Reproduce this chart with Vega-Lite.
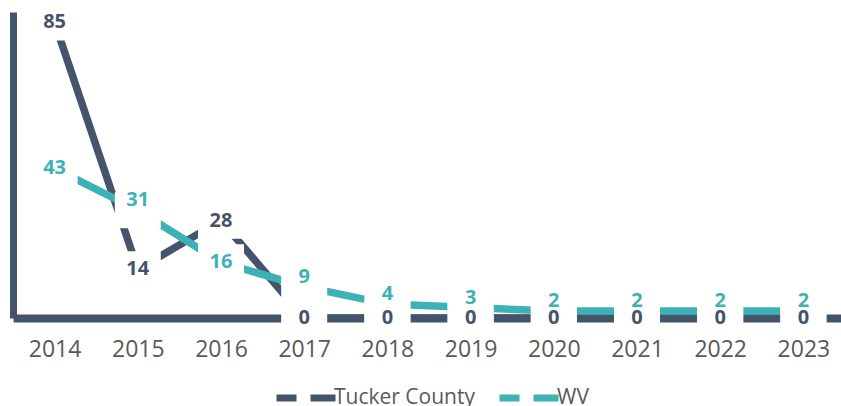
{
  "$schema": "https://vega.github.io/schema/vega-lite/v6.json",
  "width": 832,
  "height": 306,
  "autosize": "none",
  "padding": {"left": 13, "top": 12, "right": 0, "bottom": 88},
  "background": "white",
  "config": {"view": {"stroke": null}, "font": "Open Sans"},
  "data": {
    "values": [
      {"year": "2014", "series": "Tucker County", "value": 85},
      {"year": "2015", "series": "Tucker County", "value": 14},
      {"year": "2016", "series": "Tucker County", "value": 28},
      {"year": "2017", "series": "Tucker County", "value": 0},
      {"year": "2018", "series": "Tucker County", "value": 0},
      {"year": "2019", "series": "Tucker County", "value": 0},
      {"year": "2020", "series": "Tucker County", "value": 0},
      {"year": "2021", "series": "Tucker County", "value": 0},
      {"year": "2022", "series": "Tucker County", "value": 0},
      {"year": "2023", "series": "Tucker County", "value": 0},
      {"year": "2014", "series": "WV", "value": 43},
      {"year": "2015", "series": "WV", "value": 31},
      {"year": "2016", "series": "WV", "value": 16},
      {"year": "2017", "series": "WV", "value": 9},
      {"year": "2018", "series": "WV", "value": 4},
      {"year": "2019", "series": "WV", "value": 3},
      {"year": "2020", "series": "WV", "value": 2},
      {"year": "2021", "series": "WV", "value": 2},
      {"year": "2022", "series": "WV", "value": 2},
      {"year": "2023", "series": "WV", "value": 2}
    ]
  },
  "encoding": {
    "x": {
      "field": "year",
      "type": "ordinal",
      "axis": {
        "title": null,
        "labelAngle": 0,
        "labelFont": "Open Sans",
        "labelFontSize": 23,
        "labelColor": "#595959",
        "labelPadding": 20,
        "ticks": false,
        "grid": false,
        "domainColor": "#44546A",
        "domainWidth": 8
      }
    },
    "y": {
      "field": "value",
      "type": "quantitative",
      "scale": {"domain": [0, 88], "nice": false},
      "axis": {
        "title": null,
        "labels": false,
        "ticks": false,
        "grid": false,
        "domainColor": "#44546A",
        "domainWidth": 7
      }
    }
  },
  "layer": [
    {
      "mark": {"type": "line", "strokeWidth": 7.5, "strokeCap": "butt"},
      "encoding": {
        "color": {
          "field": "series",
          "type": "nominal",
          "scale": {"domain": ["Tucker County", "WV"], "range": ["#44546A", "#3DB2B6"]},
          "legend": {
            "orient": "none",
            "legendX": 260,
            "legendY": 353,
            "direction": "horizontal",
            "title": null,
            "symbolType": "stroke",
            "symbolSize": 3481,
            "symbolStrokeWidth": 7,
            "symbolDash": [20, 14, 25, 14],
            "labelFont": "Open Sans",
            "labelFontSize": 21,
            "labelColor": "#595959",
            "labelOffset": -5,
            "columnPadding": 10
          }
        }
      }
    },
    {
      "mark": {
        "type": "point",
        "shape": "M-1,-0.783H1V0.783H-1Z",
        "size": 2116,
        "filled": true,
        "fill": "white",
        "opacity": 1,
        "strokeWidth": 0
      }
    },
    {
      "transform": [{"filter": "datum.series == 'Tucker County'"}],
      "mark": {"type": "text", "font": "Open Sans", "fontWeight": "bold", "fontSize": 20, "color": "#44546A"},
      "encoding": {"text": {"field": "value", "type": "quantitative"}}
    },
    {
      "transform": [{"filter": "datum.series == 'WV' && (datum.year == '2014' || datum.year == '2016')"}],
      "mark": {"type": "text", "font": "Open Sans", "fontWeight": "bold", "fontSize": 20, "color": "#3DB2B6"},
      "encoding": {"text": {"field": "value", "type": "quantitative"}}
    },
    {
      "transform": [{"filter": "datum.series == 'WV' && datum.year != '2014' && datum.year != '2016'"}],
      "mark": {"type": "text", "font": "Open Sans", "fontWeight": "bold", "fontSize": 20, "color": "#3DB2B6", "dy": -10},
      "encoding": {"text": {"field": "value", "type": "quantitative"}}
    }
  ]
}
